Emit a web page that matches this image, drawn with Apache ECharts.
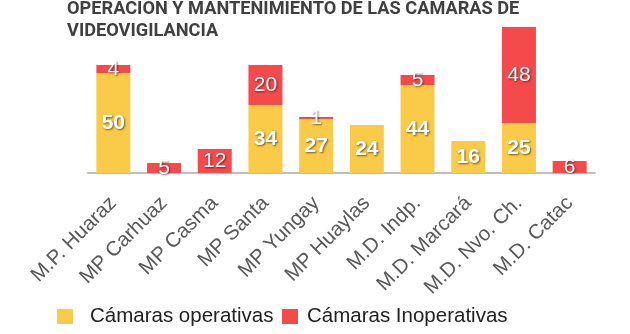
<!DOCTYPE html>
<html><head><meta charset="utf-8">
<script src="https://cdn.jsdelivr.net/npm/echarts@6/dist/echarts.min.js"></script>
<style>html,body{margin:0;padding:0;background:#fff}#c{width:630px;height:334px}</style>
</head><body><div id="c"></div>
<script>
const titleText = "OPERACIÓN Y MANTENIMIENTO DE LAS CÁMARAS DE\nVIDEOVIGILANCIA";
const categories = ["M.P. Huaraz","MP Carhuaz","MP Casma","MP Santa","MP Yungay","MP Huaylas","M.D. Indp.","M.D. Marcará","M.D. Nvo. Ch.","M.D. Catac"];
const operativas = [50, null, null, 34, 27, 24, 44, 16, 25, null];
const inoperativas = [4, 5, 12, 20, 1, null, 5, null, 48, 6];
const seriesNames = ["Cámaras operativas","Cámaras Inoperativas"];

const chart = echarts.init(document.getElementById('c'));
const shadow = {textShadowColor:'rgba(0,0,0,0.55)', textShadowBlur:2, textShadowOffsetX:1, textShadowOffsetY:1};
const legendBase = {top:301,padding:5,itemWidth:16,itemHeight:15,icon:'rect'};
chart.setOption({
  animation:false,
  title:{text:titleText,left:62,top:-7,textStyle:{fontFamily:'Roboto',fontWeight:'bold',fontSize:18.2,lineHeight:22,color:'#404040'}},
  legend:[
    Object.assign({left:52,data:[seriesNames[0]],
      textStyle:{fontFamily:'Liberation Sans, Arial',fontSize:20.5,color:'#222',padding:[0,0,0,12]}},legendBase),
    Object.assign({left:277,data:[seriesNames[1]],
      textStyle:{fontFamily:'Liberation Sans, Arial',fontSize:20.5,color:'#222',padding:[0,0,0,4]}},legendBase)
  ],
  grid:{left:88,right:35,top:13,bottom:161},
  xAxis:{type:'category',data:categories,
    axisLine:{lineStyle:{color:'#BFBFBF',width:2}},axisTick:{show:false},
    axisLabel:{rotate:45,interval:0,margin:27,fontFamily:'Liberation Sans, Arial',fontSize:20.5,color:'#595959'}},
  yAxis:{type:'value',min:0,max:80,show:false,splitLine:{show:false}},
  series:[
    {name:seriesNames[0],type:'bar',stack:'a',barWidth:34,data:operativas,itemStyle:{color:'#FACB48'},
     label:{show:true,position:'inside',color:'#fff',fontFamily:'Liberation Sans, Arial',fontWeight:'bold',fontSize:21,...shadow}},
    {name:seriesNames[1],type:'bar',stack:'a',barWidth:34,data:inoperativas,itemStyle:{color:'#F44A4C'},
     label:{show:true,position:'inside',color:'#fff',fontFamily:'Liberation Sans, Arial',fontSize:21,...shadow}}
  ]
});
</script></body></html>
